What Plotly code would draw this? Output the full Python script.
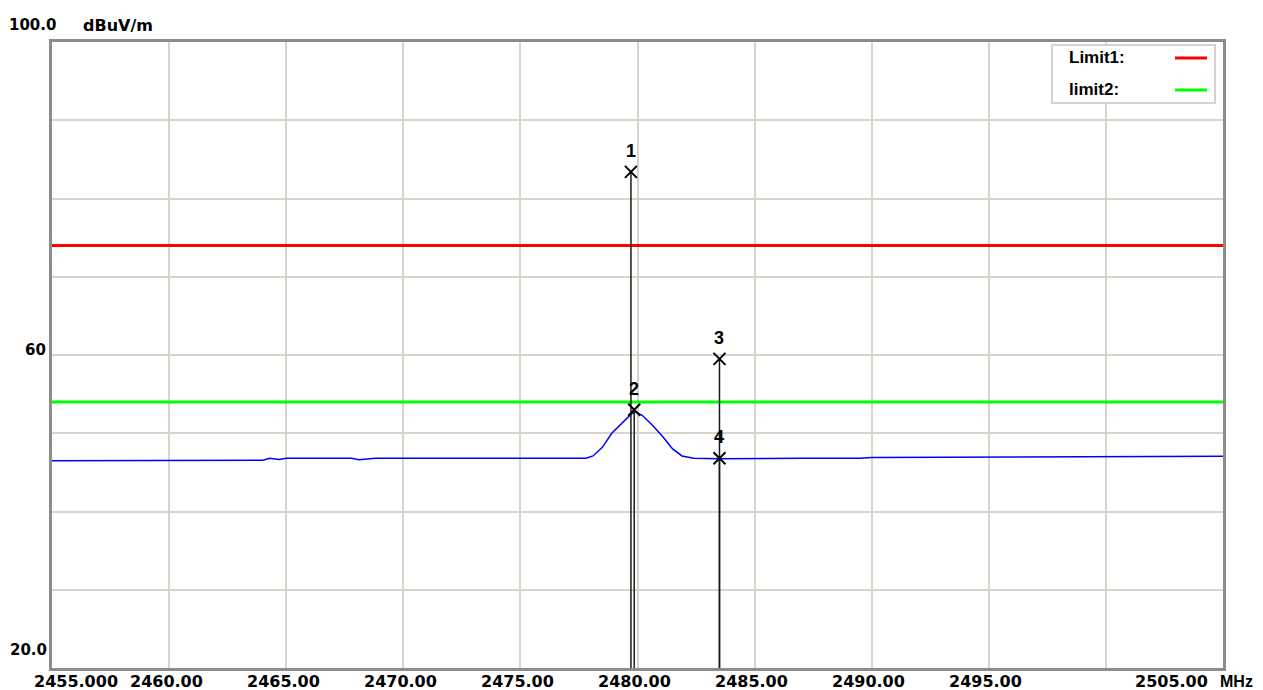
import plotly.graph_objects as go

# ---- data ----
freq_mhz = [2455.0, 2464.0, 2464.3, 2464.7, 2465.0, 2467.8, 2468.1, 2468.8, 2472.0,
            2477.5, 2477.8, 2478.1, 2478.5, 2478.9, 2479.4, 2479.75, 2479.93, 2480.2,
            2480.65, 2481.1, 2481.5, 2481.9, 2482.4, 2483.5, 2487.0, 2489.5, 2490.0,
            2495.0, 2500.0, 2505.0]
level_dbuv = [46.5, 46.55, 46.8, 46.65, 46.8, 46.8, 46.6, 46.8, 46.8,
              46.8, 46.8, 47.1, 48.2, 50.0, 51.4, 52.5, 52.7, 52.3,
              51.0, 49.5, 48.0, 47.1, 46.8, 46.75, 46.8, 46.8, 46.9,
              46.95, 47.0, 47.05]

limit1_db = 74.0
limit2_db = 54.0
limit_names = ["Limit1:", "limit2:"]

marker_ids = ["1", "2", "3", "4"]
marker_freq = [2479.72, 2479.86, 2483.5, 2483.5]
marker_level = [83.4, 53.0, 59.5, 46.8]

x_tick_vals = [2455, 2460, 2465, 2470, 2475, 2480, 2485, 2490, 2495, 2505]
x_tick_text = ["2455.000", "2460.00", "2465.00", "2470.00", "2475.00", "2480.00",
               "2485.00", "2490.00", "2495.00", "2505.00"]
y_tick_vals = [100, 60, 20]
y_tick_text = ["100.0", "60", "20.0"]
x_unit = "MHz"
y_unit = "dBuV/m"

X_MIN, X_MAX = 2455, 2505
Y_MIN, Y_MAX = 20, 100

AX_FONT = "DejaVu Sans"
TX_FONT = "Liberation Sans"
RED = "#ff0000"
GREEN = "#00ff00"
BLUE = "#0000ff"
GRID = "#d9d5cd"
FRAME = "#8c8c8c"

# page body adds 8px offset; figure sized to fill remaining window
FIG_W, FIG_H = 1255, 682
ML, MR, MT, MB = 44, 40, 34, 22
OFF = 8

fig = go.Figure()

# limit lines
fig.add_trace(go.Scatter(x=[X_MIN, X_MAX], y=[limit1_db, limit1_db], mode="lines",
                         line=dict(color=RED, width=3), hoverinfo="skip"))
fig.add_trace(go.Scatter(x=[X_MIN, X_MAX], y=[limit2_db, limit2_db], mode="lines",
                         line=dict(color=GREEN, width=3), hoverinfo="skip"))

# measured trace
fig.add_trace(go.Scatter(x=freq_mhz, y=level_dbuv, mode="lines",
                         line=dict(color=BLUE, width=1.5)))

# marker vertical lines
for f, lv in zip(marker_freq, marker_level):
    fig.add_trace(go.Scatter(x=[f, f], y=[Y_MIN, lv], mode="lines",
                             line=dict(color="#1a1a1a", width=1.5), hoverinfo="skip"))

# marker symbols
fig.add_trace(go.Scatter(x=marker_freq, y=marker_level, mode="markers",
                         marker=dict(symbol="x-thin-open", size=12,
                                     line=dict(color="black", width=2), color="black")))

for mid, f, lv in zip(marker_ids, marker_freq, marker_level):
    fig.add_annotation(x=f, y=lv, xref="x", yref="y", text=mid, showarrow=False,
                       yshift=21, font=dict(family=TX_FONT, size=18, color="black", weight="bold"))

# x tick labels
for v, t in zip(x_tick_vals, x_tick_text):
    if v == X_MIN:
        xs = 24
    elif v == X_MAX:
        xs = -52
    else:
        xs = -3
    fig.add_annotation(x=v, y=0, xref="x", yref="paper", text=t, showarrow=False,
                       yanchor="middle", yshift=-13, xshift=xs,
                       font=dict(family=AX_FONT, size=16, color="black", weight="bold"))
fig.add_annotation(x=1, y=0, xref="paper", yref="paper", text=x_unit, showarrow=False,
                   xanchor="left", yanchor="middle", yshift=-13, xshift=-5,
                   font=dict(family=TX_FONT, size=16, color="black", weight="bold"))

# y tick labels
y_shift = {100: 17, 60: 5, 20: 18}
x_shift = {100: 6, 60: -4, 20: -3}
for v, t in zip(y_tick_vals, y_tick_text):
    fig.add_annotation(x=0, y=v, xref="paper", yref="y", text=t, showarrow=False,
                       xanchor="right", yanchor="middle", yshift=y_shift[v], xshift=x_shift[v],
                       font=dict(family=AX_FONT, size=15, color="black", weight="bold"))
fig.add_annotation(x=0, y=Y_MAX, xref="paper", yref="y", text=y_unit, showarrow=False,
                   xanchor="center", yanchor="middle", yshift=17, xshift=66,
                   font=dict(family=AX_FONT, size=16, color="black", weight="bold"))

# legend box (custom: text left, line right)
PW = FIG_W - ML - MR
PH = FIG_H - MT - MB
def px(x):
    return (x - (ML + OFF)) / PW
def py(y):
    return 1 - (y - (MT + OFF)) / PH

fig.add_shape(type="rect", xref="paper", yref="paper", x0=px(1052), x1=px(1215),
              y0=py(103), y1=py(45), line=dict(color="#d6d2ca", width=2), fillcolor="white")
leg_colors = [RED, GREEN]
leg_y = [57, 89]
for name, c, yy in zip(limit_names, leg_colors, leg_y):
    fig.add_annotation(x=px(1067), y=py(yy), xref="paper", yref="paper", text=name,
                       showarrow=False, xanchor="left", yanchor="middle",
                       font=dict(family=TX_FONT, size=17, color="black", weight="bold"))
    fig.add_shape(type="line", xref="paper", yref="paper", x0=px(1175), x1=px(1207),
                  y0=py(yy + 1), y1=py(yy + 1), line=dict(color=c, width=3))

fig.update_layout(
    width=FIG_W, height=FIG_H,
    margin=dict(l=ML, r=MR, t=MT, b=MB),
    paper_bgcolor="white", plot_bgcolor="white",
    showlegend=False,
    xaxis=dict(range=[X_MIN, X_MAX], dtick=5, tick0=X_MIN, showgrid=True,
               gridcolor=GRID, gridwidth=1.5, showticklabels=False, ticks="",
               showline=True, linecolor=FRAME, linewidth=3, mirror=True, zeroline=False),
    yaxis=dict(range=[Y_MIN, Y_MAX], dtick=10, tick0=Y_MIN, showgrid=True,
               gridcolor=GRID, gridwidth=1.5, showticklabels=False, ticks="",
               showline=True, linecolor=FRAME, linewidth=3, mirror=True, zeroline=False),
)

fig.write_html("out.html")
